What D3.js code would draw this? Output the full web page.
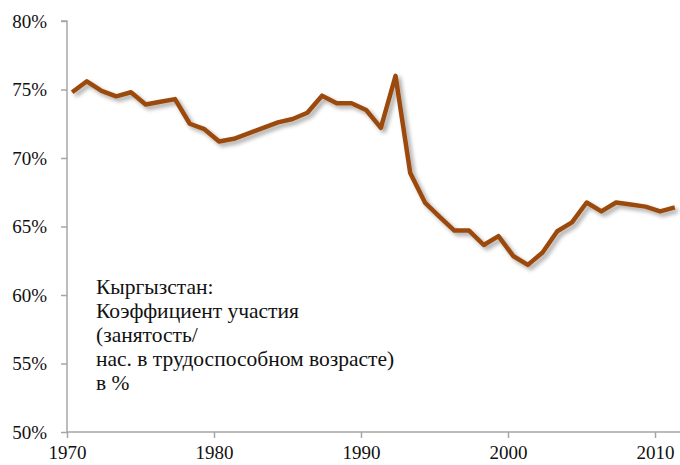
<!DOCTYPE html>
<html>
<head>
<meta charset="utf-8">
<script src="https://cdn.jsdelivr.net/npm/d3@7"></script>
<style>
  body { margin: 0; background: #fff; }
</style>
</head>
<body>
<script>
// data
var years = [];
for (var yr = 1970; yr <= 2011; yr++) years.push(yr);

var participation = [
  74.8, 75.6, 74.9, 74.5, 74.8, 73.9, 74.1, 74.3, 72.5, 72.1,
  71.2, 71.4, 71.8, 72.2, 72.6, 72.85, 73.3, 74.55, 74.0, 74.0,
  73.5, 72.2, 76.0, 68.9, 66.75, 65.7, 64.7, 64.7, 63.65, 64.3,
  62.85, 62.2, 63.1, 64.65, 65.3, 66.75, 66.1, 66.75, 66.6, 66.45,
  66.1, 66.4
];

var yTicks = [50, 55, 60, 65, 70, 75, 80];
var xTicks = [1970, 1980, 1990, 2000, 2010];

var noteLines = [
  "Кыргызстан:",
  "Коэффициент участия",
  "(занятость/",
  "нас. в трудоспособном возрасте)",
  "в %"
];

var series = years.map(function (d, i) {
  return { year: d, value: participation[i] };
});

const w = 680;
const h = 465;
const serif = "'Liberation Serif', 'Times New Roman', serif";

var svg = d3.select("body")
  .append("svg")
  .attr("width", w)
  .attr("height", h);

var x = d3.scaleLinear().domain([1970, 2011.7]).range([67, 680]);
var y = d3.scaleLinear().domain([50, 80]).range([432, 21]);

// drop shadow for the line
var defs = svg.append("defs");
var filt = defs.append("filter")
  .attr("id", "shadow")
  .attr("x", "-10%").attr("y", "-10%")
  .attr("width", "130%").attr("height", "130%");
filt.append("feGaussianBlur").attr("in", "SourceAlpha").attr("stdDeviation", 2);
filt.append("feOffset").attr("dx", 3).attr("dy", 3).attr("result", "off");
filt.append("feComponentTransfer").append("feFuncA").attr("type", "linear").attr("slope", 0.35);
var merge = filt.append("feMerge");
merge.append("feMergeNode");
merge.append("feMergeNode").attr("in", "SourceGraphic");

// y axis
var yAxis = svg.append("g")
  .attr("transform", "translate(67,0)")
  .call(d3.axisLeft(y).tickValues(yTicks).tickSize(6).tickPadding(14)
    .tickFormat(function (d) { return d + "%"; }));

// x axis
var xAxis = svg.append("g")
  .attr("transform", "translate(0,432)")
  .call(d3.axisBottom(x).tickValues(xTicks).tickSize(6).tickPadding(8)
    .tickFormat(d3.format("d")));

[yAxis, xAxis].forEach(function (a) {
  a.select(".domain").attr("stroke", "#a6a6a6").attr("stroke-width", 1.5);
  a.selectAll(".tick line").attr("stroke", "#a6a6a6").attr("stroke-width", 1.5);
  a.selectAll(".tick text")
    .style("font-family", serif)
    .style("font-size", "19px")
    .attr("fill", "#111");
});
yAxis.select(".domain").attr("d", "M0,432V21H-6");
xAxis.select(".domain").attr("d", "M67,0H680");

var line = d3.line()
  .x(function (d) { return x(d.year + 0.35); })
  .y(function (d) { return y(d.value); });

svg.append("path")
  .datum(series)
  .attr("d", line)
  .attr("fill", "none")
  .attr("stroke", "#9c4a0c")
  .attr("stroke-width", 4.5)
  .attr("stroke-linejoin", "round")
  .attr("filter", "url(#shadow)");

// annotation
var note = svg.append("text")
  .attr("x", 96)
  .attr("y", 294)
  .style("font-family", serif)
  .style("font-size", "21.5px")
  .attr("fill", "#111");

note.selectAll("tspan")
  .data(noteLines)
  .enter()
  .append("tspan")
  .attr("x", 96)
  .attr("dy", function (d, i) { return i === 0 ? 0 : 24; })
  .text(function (d) { return d; });
</script>
</body>
</html>
